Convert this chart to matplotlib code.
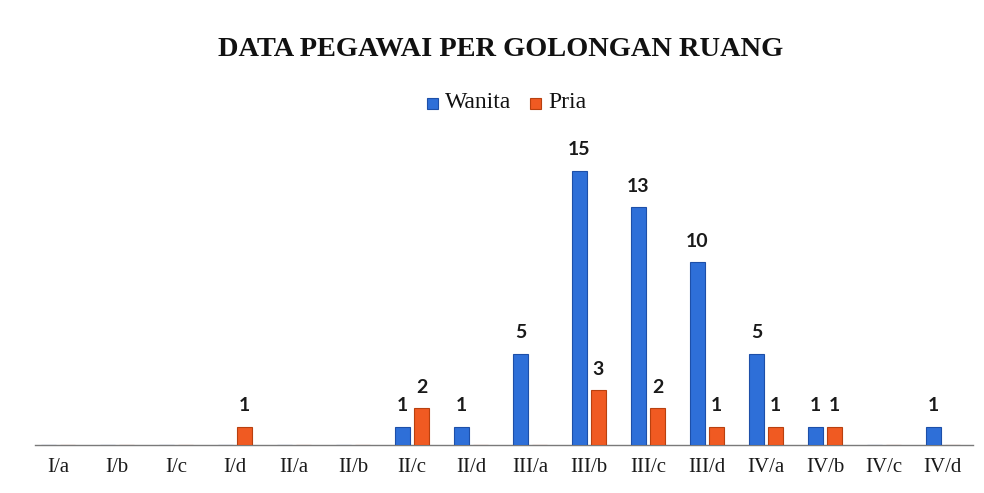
import matplotlib
matplotlib.use("Agg")
import matplotlib.pyplot as plt
import numpy as np
from matplotlib.patches import Rectangle

categories = ["I/a", "I/b", "I/c", "I/d", "II/a", "II/b", "II/c", "II/d",
              "III/a", "III/b", "III/c", "III/d", "IV/a", "IV/b", "IV/c", "IV/d"]
wanita = [0, 0, 0, 0, 0, 0, 1, 1, 5, 15, 13, 10, 5, 1, 0, 1]
pria = [0, 0, 0, 1, 0, 0, 2, 0, 0, 3, 2, 1, 1, 1, 0, 0]

title = "DATA PEGAWAI PER GOLONGAN RUANG"
blue = "#2E6FD8"
blue_edge = "#1D4FA8"
orange = "#F05A22"
orange_edge = "#B8400F"

W, H = 984, 493
fig = plt.figure(figsize=(W / 100, H / 100), dpi=100)
ax = fig.add_axes([35 / W, 1 - 445 / H, (973 - 35) / W, (445 - 134) / H])

x = np.arange(len(categories))
bw = 0.25
off = 0.16
b1 = ax.bar(x - off, wanita, bw, color=blue, edgecolor=blue_edge, linewidth=0.8, zorder=3)
b2 = ax.bar(x + off, pria, bw, color=orange, edgecolor=orange_edge, linewidth=0.8, zorder=3)

for bars, vals in ((b1, wanita), (b2, pria)):
    for rect, v in zip(bars, vals):
        if v > 0:
            ax.annotate(str(v), (rect.get_x() + rect.get_width() / 2, rect.get_height()),
                        xytext=(0, 9), textcoords="offset points", ha="center", va="bottom",
                        fontsize=14, fontweight="bold", family="Lato", color="#1a1a1a")

ax.set_xlim(-0.39, 15.51)
ax.set_ylim(0, 17)
for s in ("top", "right", "left"):
    ax.spines[s].set_visible(False)
ax.spines["bottom"].set_color("#7a7a7a")
ax.spines["bottom"].set_linewidth(1.0)
ax.spines["bottom"].set_zorder(2)
ax.set_yticks([])
ax.set_xticks(x)
ax.set_xticklabels(categories, family="Liberation Serif", fontsize=15, color="#1a1a1a")
ax.tick_params(axis="x", length=0, pad=9)

fig.text(501 / W, 1 - 49 / H, title, ha="center", va="center",
         family="Liberation Serif", fontweight="bold", fontsize=20.4, color="#111111")

# legend
ly = 1 - 103 / H
fig.patches.append(Rectangle((427 / W, ly - 5.5 / H), 11 / W, 11 / H, transform=fig.transFigure,
                             facecolor=blue, edgecolor=blue_edge, linewidth=0.8))
fig.text(445 / W, ly, "Wanita", ha="left", va="center", family="Liberation Serif",
         fontsize=17, color="#111111")
fig.patches.append(Rectangle((530 / W, ly - 5.5 / H), 11 / W, 11 / H, transform=fig.transFigure,
                             facecolor=orange, edgecolor=orange_edge, linewidth=0.8))
fig.text(548 / W, ly, "Pria", ha="left", va="center", family="Liberation Serif",
         fontsize=17, color="#111111")

fig.savefig("out.png", dpi=100, facecolor="white")
